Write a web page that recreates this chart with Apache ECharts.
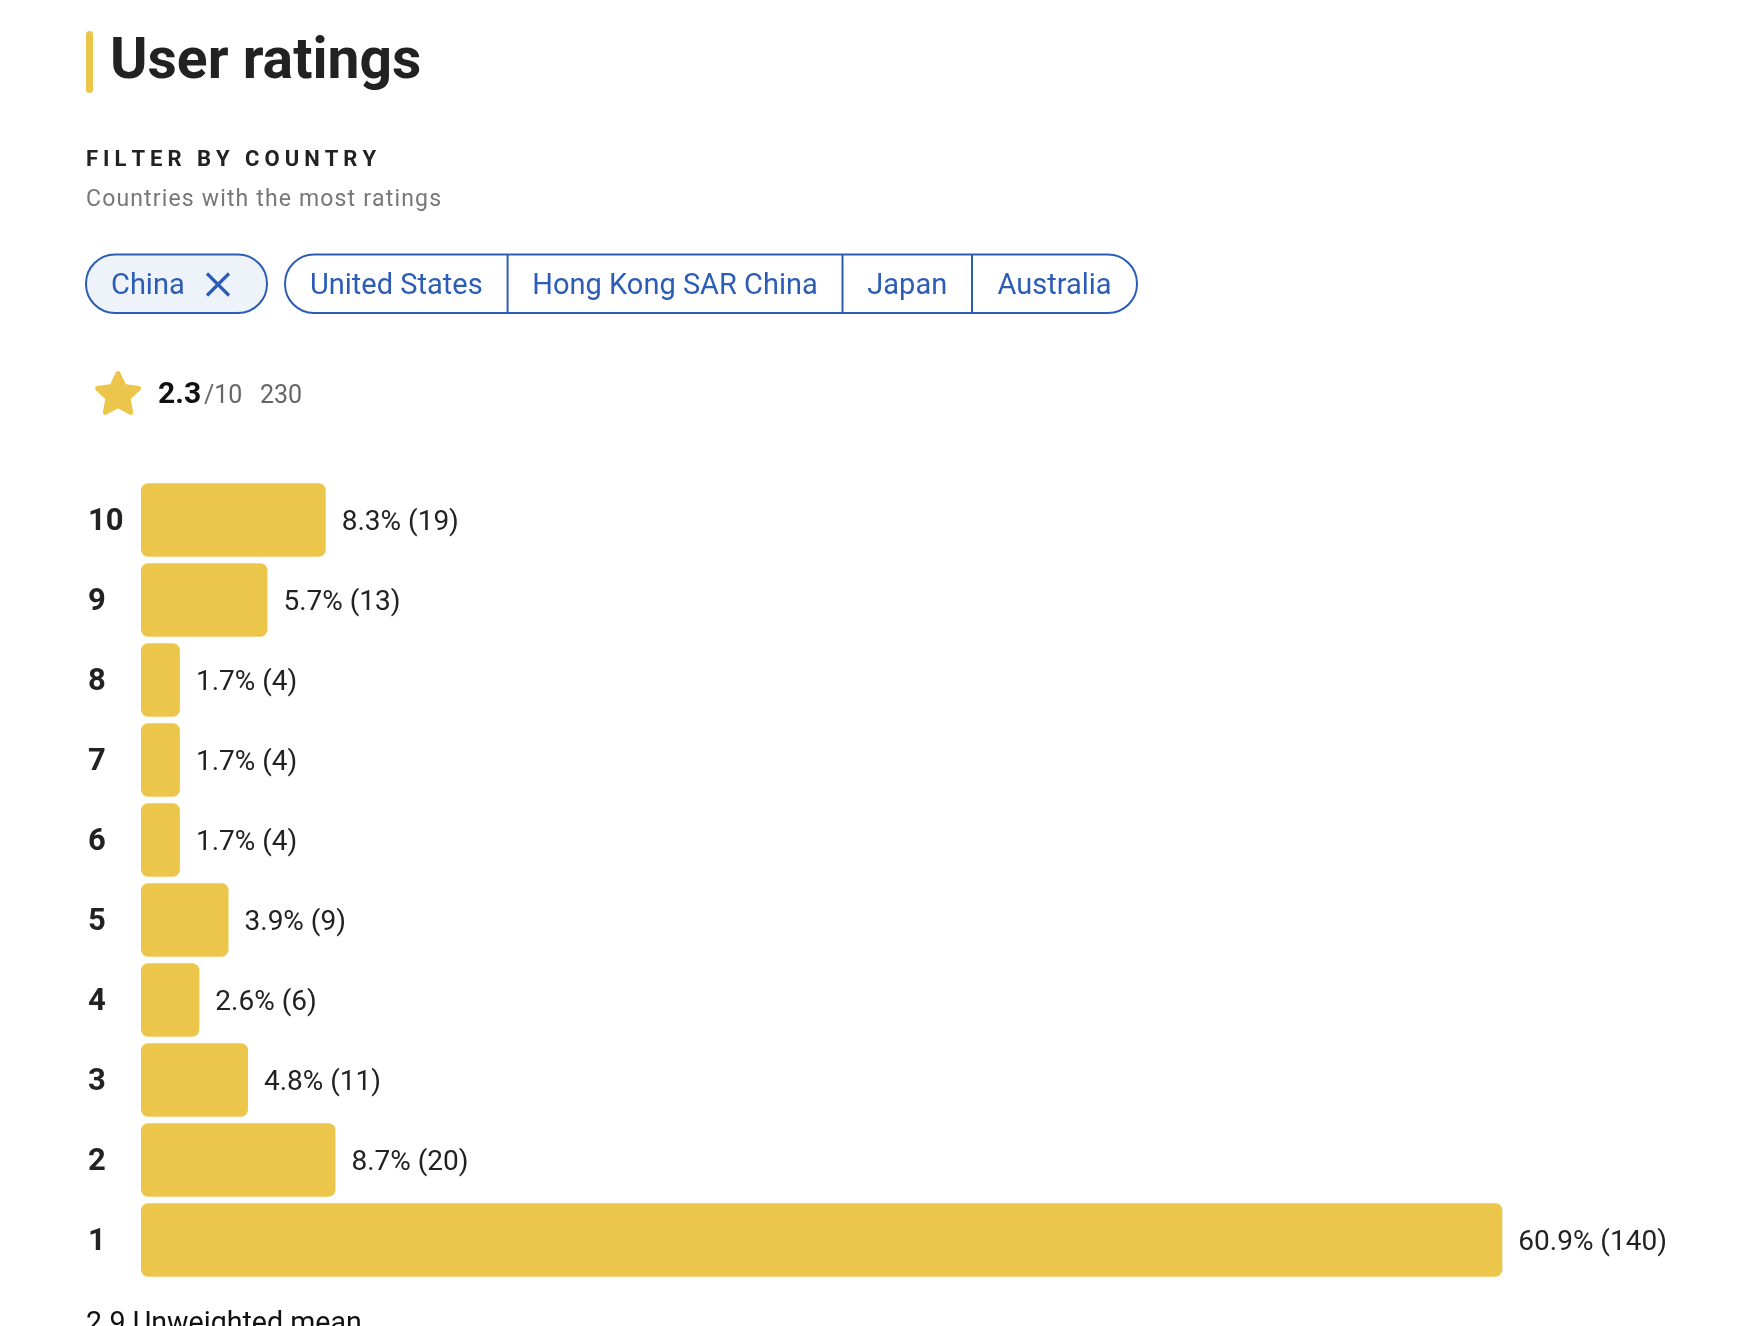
<!DOCTYPE html>
<html>
<head>
<meta charset="utf-8">
<style>
  html, body { margin: 0; padding: 0; background: #fff; }
  #chart { width: 1738px; height: 1326px; }
</style>
<script src="https://cdn.jsdelivr.net/npm/echarts@6/dist/echarts.min.js"></script>
</head>
<body>
<div id="chart"></div>
<script>
// ---- data ----
const ratingCategories = ['10', '9', '8', '7', '6', '5', '4', '3', '2', '1'];
const ratingCounts = [19, 13, 4, 4, 4, 9, 6, 11, 20, 140];
const ratingPercents = ['8.3', '5.7', '1.7', '1.7', '1.7', '3.9', '2.6', '4.8', '8.7', '60.9'];
const countries = ['United States', 'Hong Kong SAR China', 'Japan', 'Australia'];
const selectedCountry = 'China';
const averageScore = '2.3';
const totalRatings = '230';
const unweightedMean = '2.9';

const FONT = 'Roboto, "Noto Sans", sans-serif';
const BLUE = '#2c5db6';
const BAR = '#ecc64a';

const chart = echarts.init(document.getElementById('chart'), null, { renderer: 'canvas' });

// letter-spaced text, laid out char by char
function spacedText(str, x, y, font, targetWidth, color) {
  const c = document.createElement('canvas').getContext('2d');
  c.font = font;
  const chars = [...str];
  const widths = chars.map(ch => c.measureText(ch).width);
  const total = widths.reduce((a, b) => a + b, 0);
  const gap = (targetWidth - total) / (chars.length - 1);
  const out = [];
  let cx = x;
  chars.forEach((ch, i) => {
    out.push({ type: 'text', x: cx, y: y, silent: true,
      style: { text: ch, font: font, fill: color, align: 'left', verticalAlign: 'middle' } });
    cx += widths[i] + gap;
  });
  return out;
}

// star polygon points
function starPoints(cx, cy, R, r) {
  const pts = [];
  for (let i = 0; i < 10; i++) {
    const rad = i % 2 === 0 ? R : r;
    const a = -Math.PI / 2 + i * Math.PI / 5;
    pts.push([cx + rad * Math.cos(a), cy + rad * Math.sin(a)]);
  }
  return pts;
}

// country pill segments
const segEdges = [285, 507.6, 842.5, 972, 1137];
const graphics = [];

// title
graphics.push({ type: 'rect', shape: { x: 86, y: 31, width: 7, height: 62, r: 3.5 }, style: { fill: BAR }, silent: true });
graphics.push({ type: 'text', x: 110, y: 64, style: { text: 'User ratings', font: 'bold 57px Roboto', fill: '#222', align: 'left', verticalAlign: 'middle' } });
spacedText('FILTER BY COUNTRY', 86, 160.7, 'bold 22px Roboto', 290, '#222').forEach(g => graphics.push(g));
spacedText('Countries with the most ratings', 86, 200, '23px Roboto', 355, '#777').forEach(g => graphics.push(g));

// selected pill
graphics.push({ type: 'rect', shape: { x: 86, y: 254.5, width: 181, height: 58.5, r: 29 }, style: { fill: '#eef2f9', stroke: BLUE, lineWidth: 2 } });
graphics.push({ type: 'text', x: 111, y: 286.5, style: { text: selectedCountry, font: '29px ' + FONT, fill: BLUE, align: 'left', verticalAlign: 'middle' } });
graphics.push({ type: 'line', shape: { x1: 207, y1: 273.5, x2: 229, y2: 295.5 }, style: { stroke: BLUE, lineWidth: 3.2 } });
graphics.push({ type: 'line', shape: { x1: 229, y1: 273.5, x2: 207, y2: 295.5 }, style: { stroke: BLUE, lineWidth: 3.2 } });

// group pill
graphics.push({ type: 'rect', shape: { x: segEdges[0], y: 254.5, width: segEdges[4] - segEdges[0], height: 58.5, r: 29 }, style: { fill: '#fff', stroke: BLUE, lineWidth: 2 } });
for (let i = 1; i < segEdges.length - 1; i++) {
  graphics.push({ type: 'line', shape: { x1: segEdges[i], y1: 254.5, x2: segEdges[i], y2: 313 }, style: { stroke: BLUE, lineWidth: 2 } });
}
countries.forEach((name, i) => {
  graphics.push({ type: 'text', x: (segEdges[i] + segEdges[i + 1]) / 2, y: 286.5, style: { text: name, font: '29px ' + FONT, fill: BLUE, align: 'center', verticalAlign: 'middle' } });
});

// star + score
graphics.push({ type: 'polygon', shape: { points: starPoints(118, 395, 21.5, 10.5) }, style: { fill: BAR, stroke: BAR, lineWidth: 5, lineJoin: 'round' } });
graphics.push({ type: 'text', x: 158, y: 395, style: { text: averageScore, font: 'bold 30px ' + FONT, fill: '#111', align: 'left', verticalAlign: 'middle' } });
graphics.push({ type: 'text', x: 204, y: 396.5, style: { text: '/10', font: '25px ' + FONT, fill: '#666', align: 'left', verticalAlign: 'middle' } });
graphics.push({ type: 'text', x: 260, y: 396.5, style: { text: totalRatings, font: '25px ' + FONT, fill: '#666', align: 'left', verticalAlign: 'middle' } });

// footer
graphics.push({ type: 'text', x: 86, y: 1324.5, style: { text: unweightedMean + ' Unweighted mean', font: '28.6px ' + FONT, fill: '#111', align: 'left', verticalAlign: 'middle' } });

chart.setOption({
  animation: false,
  backgroundColor: '#fff',
  grid: { left: 141, right: 235.7, top: 480, bottom: 46, containLabel: false },
  xAxis: { type: 'value', min: 0, max: 140, show: false },
  yAxis: {
    type: 'category',
    data: ratingCategories,
    inverse: true,
    axisLine: { show: false },
    axisTick: { show: false },
    splitLine: { show: false },
    axisLabel: { align: 'left', verticalAlign: 'top', lineHeight: 5, margin: 53, fontSize: 31, fontWeight: 'bold', color: '#222', fontFamily: FONT }
  },
  series: [{
    type: 'bar',
    data: ratingCounts,
    barWidth: 73.4,
    itemStyle: { color: BAR, borderRadius: 7 },
    label: {
      show: true,
      position: 'right',
      distance: 16,
      offset: [0, 2.5],
      fontSize: 28,
      color: '#222',
      fontFamily: FONT,
      formatter: p => ratingPercents[p.dataIndex] + '% (' + p.value + ')'
    }
  }],
  graphic: graphics
});
</script>
</body>
</html>
